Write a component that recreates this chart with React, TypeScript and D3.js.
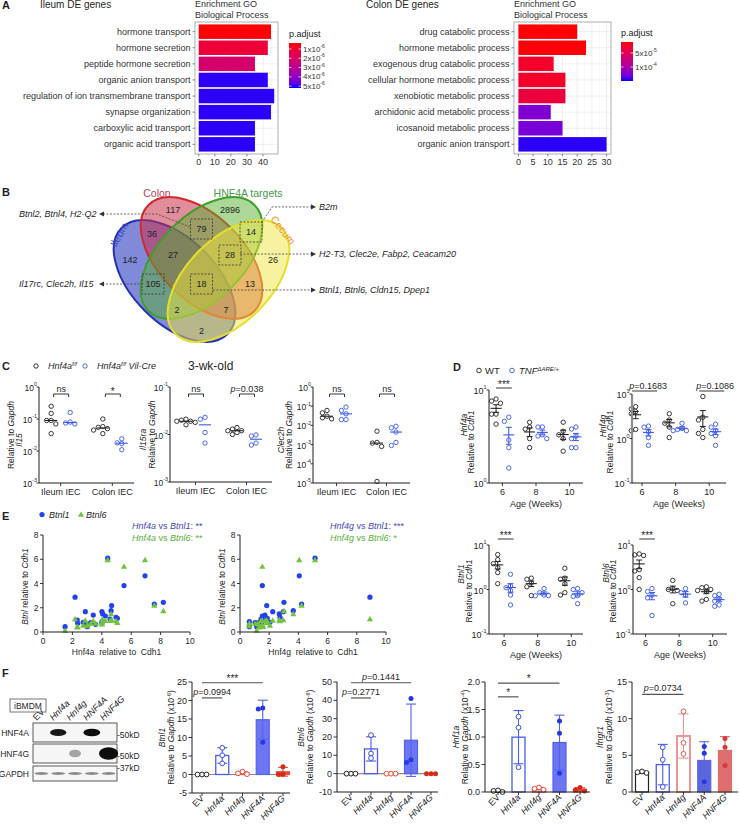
import React from 'react';
import * as d3 from 'd3';

const FONT = '"Liberation Sans", Arial, Helvetica, sans-serif';
const INK = '#1f1f1f';
const WT_COL = '#222222';
const KO_COL = '#3a58f0';

// ---------- A: GO enrichment ----------
const ileumTerms = [
  'hormone transport',
  'hormone secretion',
  'peptide hormone secretion',
  'organic anion transport',
  'regulation of ion transmembrane transport',
  'synapse organization',
  'carboxylic acid transport',
  'organic acid transport',
];
const ileumCounts = [45, 43, 35, 43, 47, 45, 35, 35];
const ileumPadj = [0.4e-6, 1.1e-6, 2.1e-6, 5.1e-6, 5.1e-6, 5.1e-6, 5.1e-6, 5.1e-6];
const ileumLegendRange = [0.35e-6, 5.2e-6];
const ileumLegendTicks = [1e-6, 2e-6, 3e-6, 4e-6, 5e-6];

const colonTerms = [
  'drug catabolic process',
  'hormone metabolic process',
  'exogenous drug catabolic process',
  'cellular hormone metabolic process',
  'xenobiotic metabolic process',
  'archidonic acid metabolic process',
  'icosanoid metabolic process',
  'organic anion transport',
];
const colonCounts = [20, 23, 12, 16, 16, 11, 15, 30];
const colonPadj = [1.15e-5, 1.25e-5, 2.5e-5, 2.5e-5, 3.5e-5, 1.24e-4, 1.27e-4, 1.47e-4];
const colonLegendRange = [1.07e-5, 1.5e-4];
const colonLegendTicks = [5e-5, 1e-4];

// ---------- B: Venn ----------
const vennSets = ['Ileum', 'Colon', 'HNF4A targets', 'Cecum'];
const vennCounts = [117, 2896, 36, 79, 14, 142, 27, 28, 26, 105, 18, 13, 2, 7, 2];
const vennCalloutGenes = [
  'Btnl2, Btnl4, H2-Q2',
  'B2m',
  'H2-T3, Clec2e, Fabp2, Ceacam20',
  'Il17rc, Clec2h, Il15',
  'Btnl1, Btnl6, Cldn15, Dpep1',
];

// ---------- C: 3-wk-old qPCR ----------
const cGroups = ['Ileum IEC', 'Colon IEC'];
const il15WT = [[0.25, 0.15, 0.09, 0.09, 0.07, 0.035], [0.1, 0.058, 0.055, 0.05, 0.045, 0.035]];
const il15KO = [[0.16, 0.08, 0.075, 0.07], [0.024, 0.018, 0.017, 0.011]];
const il15Sig = ['ns', '*'];
const il15raWT = [[0.021, 0.02, 0.019, 0.019, 0.018, 0.016], [0.014, 0.013, 0.012, 0.012, 0.011, 0.01]];
const il15raKO = [[0.023, 0.021, 0.011, 0.0066], [0.0098, 0.0093, 0.0066, 0.006]];
const il15raSig = ['ns', 'p=0.038'];
const clec2hWT = [[0.06, 0.045, 0.03, 0.025, 0.022], [0.005, 0.0013, 0.0012, 0.0008, 0.000012]];
const clec2hKO = [[0.09, 0.06, 0.04, 0.02, 0.02], [0.009, 0.0075, 0.0045, 0.0013, 0.0009]];
const clec2hSig = ['ns', 'ns'];

// ---------- D: TNF dARE time course ----------
const weeks = [6, 8, 10];
const hnf4aWT = [[8.0, 7.6, 7.2, 5.5, 5.5, 4.3], [4.5, 4.0, 3.8, 3.0, 2.4], [4.5, 3.6, 3.3, 3.0, 2.2]];
const hnf4aTNF = [[5.1, 4.6, 2.9, 2.4, 1.45], [4.0, 4.0, 3.3, 3.2, 3.0], [4.0, 3.8, 3.2, 3.0, 2.4, 2.4]];
const hnf4gWT = [[5.2, 4.6, 4.0, 3.6, 1.6, 1.5], [3.6, 2.6, 2.2, 1.8, 1.05], [8.8, 3.0, 2.6, 1.6, 1.3, 1.05]];
const hnf4gTNF = [[1.9, 1.8, 1.4, 1.05, 0.7], [2.2, 1.7, 1.6, 1.5, 1.5], [2.1, 1.8, 1.5, 1.3, 1.15, 0.7]];
const btnl1WT = [[6.1, 4.7, 3.8, 3.1, 2.4, 1.35], [1.8, 1.7, 1.4, 1.15, 0.73], [3.0, 1.8, 1.7, 1.35, 0.85, 0.75]];
const btnl1TNF = [[2.2, 1.2, 1.1, 0.95, 0.75, 0.45], [1.05, 0.85, 0.75, 0.73, 0.72], [1.05, 1.0, 0.85, 0.73, 0.7, 0.48]];
const btnl6WT = [[6.3, 6.0, 5.8, 2.8, 2.6, 1.85, 1.0], [1.6, 1.05, 1.0, 0.95, 0.48], [1.15, 1.1, 1.0, 0.95, 0.9, 0.6, 0.55]];
const btnl6TNF = [[1.05, 0.9, 0.75, 0.65, 0.26], [1.05, 0.85, 0.75, 0.5], [0.78, 0.73, 0.62, 0.55, 0.45, 0.42]];
const hnf4aSig = [{ week: 6, text: '***' }];
const hnf4gSig = [{ week: 6, text: 'p=0.1683' }, { week: 10, text: 'p=0.1086' }];
const btnl1Sig = [{ week: 6, text: '***' }];
const btnl6Sig = [{ week: 6, text: '***' }];

// ---------- E: correlations (one row per sample) ----------
const eHnf4a = [4.4, 6.94, 5.51, 2.18, 7.57, 8.19, 4.67, 4.63, 2.88, 4.01, 4.06, 3.42, 4.24, 4.97, 5.06, 4.56, 2.33, 4.01, 2.74, 3.24, 4.01, 2.36, 3.02, 3.58, 3.02, 1.5];
const eHnf4g = [5.14, 4.06, 1.53, 8.9, 4.22, 3.01, 1.83, 3.65, 2.24, 2.97, 2.69, 1.71, 1.53, 2.74, 1.87, 1.44, 1.6, 0.64, 2.05, 1.03, 1.26, 1.3, 1.5, 1.2, 0.64, 1.14];
const eBtnl1 = [6.09, 4.63, 3.83, 2.87, 2.31, 2.45, 2.18, 1.76, 1.68, 1.68, 1.49, 1.4, 1.32, 1.21, 1.13, 1.07, 0.99, 0.85, 0.8, 0.77, 0.77, 0.72, 0.66, 0.63, 0.44, 0.44];
const eBtnl6 = [5.95, 5.95, 5.4, 1.07, 2.2, 1.74, 0.99, 1.49, 0.95, 0.99, 1.0, 0.91, 0.94, 0.91, 0.77, 0.94, 0.44, 0.72, 0.55, 0.7, 0.65, 0.4, 0.6, 0.7, 0.5, 0.12];

// ---------- F: iBMDM overexpression ----------
const blotLanes = ['EV', 'Hnf4a', 'Hnf4g', 'HNF4A', 'HNF4G'];
const blotRows = ['HNF4A', 'HNF4G', 'GAPDH'];
const blotSignal = [
  [0, 0.95, 0, 1, 0],
  [0, 0, 0.35, 0.03, 1],
  [0.45, 0.45, 0.45, 0.45, 0.45],
];
const blotMarkers = ['50kD', '50kD', '37kD'];
const fCats = ['EV', 'Hnf4a', 'Hnf4g', 'HNF4A', 'HNF4G'];
const btnl1F = [[0, 0, 0], [7.2, 5.2, 3.0], [0.8, 0.3, 0.1], [18.0, 17.7, 8.7], [2.1, 0.1, 0.0]];
const btnl6F = [[0, 0, 0], [21, 11, 8.5], [0, 0, 0], [41, 6.1, 7.6], [0, 0, 0]];
const hnf1aF = [[0.02, 0.0, 0.03], [1.37, 1.17, 0.45], [0.08, 0.06, 0.04], [1.29, 1.07, 0.34], [0.08, 0.04, 0.02]];
const ifngr1F = [[2.8, 2.7, 2.6], [6.1, 4.4, 0.7], [11.0, 6.7, 5.2], [6.2, 5.3, 1.4], [7.3, 6.1, 3.6]];
const btnl1FSig = [{ a: 'EV', b: 'HNF4A', at: 24.8, text: '***' }, { a: 'EV', b: 'Hnf4a', at: 20.7, text: 'p=0.0994' }];
const btnl6FSig = [{ a: 'EV', b: 'HNF4A', at: 49.6, text: 'p=0.1441' }, { a: 'EV', b: 'Hnf4a', at: 41.3, text: 'p=0.2771' }];
const hnf1aFSig = [{ a: 'EV', b: 'HNF4A', at: 1.98, text: '*' }, { a: 'EV', b: 'Hnf4a', at: 1.73, text: '*' }];
const ifngr1FSig = [{ a: 'EV', b: 'Hnf4g', at: 13.3, text: 'p=0.0734' }];

// ---------- styles ----------
const fStyle = [
  { line: '#222', fill: '#fff', dot: '#222', solid: false, w: 1.2 },
  { line: '#4b5df2', fill: '#fff', dot: '#3b4ff0', solid: false, w: 1.3 },
  { line: '#ef5444', fill: '#fff', dot: '#ef4a3a', solid: false, w: 1.3 },
  { line: '#5462ee', fill: '#6d76f0', dot: '#2638e6', solid: true, w: 1.2 },
  { line: '#e4503e', fill: '#e4503e', dot: '#d72a18', solid: true, w: 1.2 },
];
const fStyleIfngr = [
  fStyle[0],
  fStyle[1],
  { line: '#f29393', fill: '#fff', dot: '#e65b5b', solid: false, w: 2 },
  { line: '#5c66dc', fill: '#5c66dc', dot: '#2638e6', solid: true, w: 1.2 },
  { line: '#df6f6f', fill: '#df6f6f', dot: '#d63b3b', solid: true, w: 1.2 },
];

function sci(v: number) {
  const e = Math.floor(Math.log10(v) + 1e-9);
  return { m: Math.round(v / Math.pow(10, e)), e };
}

function swarm(vals: number[], cx: number, y: (v: number) => number, gap: number) {
  const out: { x: number; y: number }[] = [];
  const order = [0, -1, 1, -2, 2, -3, 3];
  [...vals].sort((a, b) => b - a).forEach(v => {
    const py = y(v);
    let px = cx;
    for (const k of order) {
      const c = cx + k * gap;
      if (out.every(p => Math.hypot(p.x - c, p.y - py) >= gap * 0.98)) { px = c; break; }
    }
    out.push({ x: px, y: py });
  });
  return out;
}

function sigContent(t: string) {
  if (t.startsWith('p=')) return [<tspan key="p" fontStyle="italic">p</tspan>, t.slice(1)];
  return t;
}

function Pow10({ x, y, e, size = 8.5, anchor = 'end' }: any) {
  return (
    <text x={x} y={y} fontSize={size} textAnchor={anchor} dominantBaseline="central" fill={INK}>
      10<tspan fontSize={size * 0.62} dy={-size * 0.42}>{e}</tspan>
    </text>
  );
}

function VText({ x, y, size = 8.5, children, fill = INK }: any) {
  return (
    <text transform={`translate(${x},${y}) rotate(-90)`} textAnchor="middle" fontSize={size} fill={fill}>
      {children}
    </text>
  );
}

// ---------- Panel A ----------
function GoPanel({ gid, title, titleX, terms, counts, padj, lRange, lTicks, box, leg }: any) {
  const max = d3.max(counts as number[]) as number;
  const x = d3.scaleLinear().domain([-0.05 * max, 1.05 * max]).range([box.x0, box.x1]);
  const y = d3.scalePoint<string>().domain(terms).range([box.y0, box.y1]).padding(0.6);
  const bh = y.step() * 0.9;
  const col = d3.scaleLinear<string>().domain(lRange).range(['#ff0000', '#0000ff']).interpolate(d3.interpolateLab);
  const ly = d3.scaleLinear().domain(lRange).range([leg.y0, leg.y1]);
  const ticks = x.ticks(5).filter(t => t >= 0);
  const st = ticks[1] - ticks[0];
  const minor = ticks.map(t => t + st / 2).filter(t => t < x.domain()[1]);
  const stops = d3.range(0, 1.0001, 0.1);
  return (
    <g>
      <text x={titleX} y={8} fontSize={10} fill={INK}>{title}</text>
      <text x={box.x0} y={7} fontSize={9} fill="#333">Enrichment GO</text>
      <text x={box.x0} y={18} fontSize={9} fill="#333">Biological Process</text>
      <rect x={box.x0} y={box.y0} width={box.x1 - box.x0} height={box.y1 - box.y0} fill="#fff" />
      {minor.map(t => (
        <line key={'m' + t} x1={x(t)} x2={x(t)} y1={box.y0} y2={box.y1} stroke="#f3f3f3" strokeWidth={0.5} />
      ))}
      {ticks.map(t => (
        <line key={'g' + t} x1={x(t)} x2={x(t)} y1={box.y0} y2={box.y1} stroke="#e8e8e8" strokeWidth={0.7} />
      ))}
      {terms.map((t: string) => (
        <line key={'h' + t} x1={box.x0} x2={box.x1} y1={y(t)} y2={y(t)} stroke="#e8e8e8" strokeWidth={0.7} />
      ))}
      {terms.map((t: string, i: number) => (
        <rect key={t} x={x(0)} y={(y(t) as number) - bh / 2} width={x(counts[i]) - x(0)} height={bh} fill={col(padj[i])} />
      ))}
      <rect x={box.x0} y={box.y0} width={box.x1 - box.x0} height={box.y1 - box.y0} fill="none" stroke="#9c9c9c" strokeWidth={0.8} />
      {terms.map((t: string) => (
        <g key={'l' + t}>
          <line x1={box.x0 - 2.5} x2={box.x0} y1={y(t)} y2={y(t)} stroke="#444" strokeWidth={0.6} />
          <text x={box.x0 - 4.5} y={y(t)} textAnchor="end" dominantBaseline="central" fontSize={9} fill="#333">{t}</text>
        </g>
      ))}
      {ticks.map(t => (
        <g key={'x' + t}>
          <line x1={x(t)} x2={x(t)} y1={box.y1} y2={box.y1 + 2.5} stroke="#444" strokeWidth={0.6} />
          <text x={x(t)} y={box.y1 + 11} textAnchor="middle" fontSize={9} fill="#333">{t}</text>
        </g>
      ))}
      <text x={leg.x} y={leg.y0 - 6} fontSize={9} fill="#222">p.adjust</text>
      <defs>
        <linearGradient id={gid} x1="0" y1="0" x2="0" y2="1">
          {stops.map(s => (
            <stop key={s} offset={s} stopColor={col(lRange[0] + s * (lRange[1] - lRange[0]))} />
          ))}
        </linearGradient>
      </defs>
      <rect x={leg.x} y={leg.y0} width={12} height={leg.y1 - leg.y0} fill={`url(#${gid})`} />
      {lTicks.map((v: number) => {
        const { m, e } = sci(v);
        return (
          <g key={v}>
            <line x1={leg.x} x2={leg.x + 2.5} y1={ly(v)} y2={ly(v)} stroke="#fff" strokeWidth={0.7} />
            <line x1={leg.x + 9.5} x2={leg.x + 12} y1={ly(v)} y2={ly(v)} stroke="#fff" strokeWidth={0.7} />
            <text x={leg.x + 14} y={ly(v)} dominantBaseline="central" fontSize={8} fill="#333">
              {m}x10<tspan fontSize={5} dy={-3}>{e}</tspan>
            </text>
          </g>
        );
      })}
    </g>
  );
}

// ---------- Panel B ----------
const VENN_SHAPES = [
  { c: [-0.252, 0.215], rot: 45, fill: '#3441c2', stroke: '#2233b8', op: 0.62 },
  { c: [0, 0], rot: 45, fill: '#c83048', stroke: '#d02a2a', op: 0.55 },
  { c: [0, 0], rot: -45, fill: '#58b030', stroke: '#3f9f2a', op: 0.5 },
  { c: [0.252, 0.215], rot: -45, fill: '#efe640', stroke: '#e6df2a', op: 0.5 },
];
const VENN_POS = [
  [-0.266, -0.449], [0.266, -0.449], [-0.463, -0.224], [0, -0.271], [0.463, -0.243],
  [-0.668, 0.019], [-0.266, -0.028], [0.266, -0.028], [0.668, 0.019],
  [-0.453, 0.243], [0, 0.243], [0.453, 0.243], [-0.229, 0.486], [0.229, 0.486], [0, 0.682],
];
const VENN_BOXED = [3, 4, 7, 9, 10];
const VENN_CALLOUTS = [
  { pts: [[-0.107, -0.29], [-0.416, -0.411], [-0.911, -0.411]], at: [-1.706, -0.383], dir: -1 },
  { pts: [[0.565, -0.336], [0.659, -0.477], [1.023, -0.477]], at: [1.098, -0.449], dir: 1 },
  { pts: [[0.36, -0.037], [1.023, -0.037]], at: [1.098, -0.009], dir: 1 },
  { pts: [[-0.547, 0.243], [-0.911, 0.243]], at: [-1.706, 0.271], dir: -1 },
  { pts: [[0.107, 0.299], [1.023, 0.299]], at: [1.098, 0.327], dir: 1 },
];
const VENN_NAMES = [
  { at: [-0.74, -0.2], rot: -60, color: '#3a4ac0' },
  { at: [-0.416, -0.572], rot: 0, color: '#c0405a' },
  { at: [0.435, -0.572], rot: 0, color: '#4a9a4a' },
  { at: [0.735, -0.24], rot: 52, color: '#f09030' },
];

function Venn() {
  const vx = d3.scaleLinear().domain([-1, 1]).range([94.5, 308.5]);
  const vy = d3.scaleLinear().domain([-1, 1]).range([151, 365]);
  const rx = vx(0.7) - vx(0);
  const ry = vx(0.393) - vx(0);
  const line = d3.line<number[]>().x(p => vx(p[0])).y(p => vy(p[1]));
  return (
    <g>
      {VENN_SHAPES.map((s, i) => (
        <ellipse key={i} cx={0} cy={0} rx={rx} ry={ry}
          transform={`translate(${vx(s.c[0])},${vy(s.c[1])}) rotate(${s.rot})`}
          fill={s.fill} fillOpacity={s.op} stroke={s.stroke} strokeWidth={2} />
      ))}
      {VENN_NAMES.map((n, i) => (
        <text key={i} transform={`translate(${vx(n.at[0])},${vy(n.at[1])}) rotate(${n.rot})`}
          textAnchor="middle" fontSize={10.5} fill={n.color}>{vennSets[i]}</text>
      ))}
      {VENN_BOXED.map(i => (
        <rect key={'b' + i} x={vx(VENN_POS[i][0]) - 11} y={vy(VENN_POS[i][1]) - 10} width={22} height={20}
          fill="none" stroke="#333" strokeWidth={0.8} strokeDasharray="2,1.5" />
      ))}
      {vennCounts.map((c, i) => (
        <text key={'c' + i} x={vx(VENN_POS[i][0])} y={vy(VENN_POS[i][1])} textAnchor="middle"
          dominantBaseline="central" fontSize={9} fill={INK}>{c}</text>
      ))}
      {VENN_CALLOUTS.map((c, i) => {
        const end = c.pts[c.pts.length - 1];
        const ex = vx(end[0]);
        const ey = vy(end[1]);
        const d = c.dir;
        return (
          <g key={'k' + i}>
            <path d={line(c.pts) as string} fill="none" stroke="#444" strokeWidth={0.8} strokeDasharray="2,1.5" />
            <path d={`M${ex + d * 5},${ey} L${ex},${ey - 2.6} L${ex},${ey + 2.6} Z`} fill="#333" />
            <text x={vx(c.at[0])} y={vy(c.at[1])} fontSize={9} fontStyle="italic" fill={INK}>{vennCalloutGenes[i]}</text>
          </g>
        );
      })}
    </g>
  );
}

// ---------- Panel C ----------
function LogDot({ axisX, xEnd, yTop, yBottom, eTop, eBottom, pad, wt, ko, sig, gene, geneX, relX, sigY }: any) {
  const y = d3.scaleLog().domain([Math.pow(10, eBottom), Math.pow(10, eTop)]).range([yBottom, yTop]);
  const x = d3.scalePoint<string>().domain(cGroups).range([axisX, xEnd]).padding(pad);
  const exps = d3.range(eBottom, eTop + 1);
  const off = 9.5;
  const midY = (yTop + yBottom) / 2 + 5;
  return (
    <g>
      {cGroups.map((g, gi) => {
        const cx = x(g) as number;
        return [
          { vals: wt[gi], px: cx - off, color: WT_COL },
          { vals: ko[gi], px: cx + off, color: KO_COL },
        ].map((s, si) => {
          const pts = swarm(s.vals, s.px, y, 4.6);
          const med = d3.median(s.vals) as number;
          return (
            <g key={g + si}>
              <line x1={s.px - 6} x2={s.px + 6} y1={y(med)} y2={y(med)} stroke={s.color} strokeWidth={1.1} />
              {pts.map((p, k) => (
                <circle key={k} cx={p.x} cy={p.y} r={2.2} fill="none" stroke={s.color} strokeWidth={0.9} />
              ))}
            </g>
          );
        });
      })}
      {cGroups.map((g, gi) => {
        const cx = x(g) as number;
        const x1 = cx - 7;
        const x2 = cx + 8;
        const isStar = sig[gi] === '*';
        return (
          <g key={'s' + g}>
            <path d={`M${x1},${sigY + 3} V${sigY} H${x2} V${sigY + 3}`} fill="none" stroke={INK} strokeWidth={0.9} />
            <text x={(x1 + x2) / 2} y={isStar ? sigY + 1 : sigY - 2.5} textAnchor="middle" fontSize={isStar ? 10 : 9} fill={INK}>
              {sigContent(sig[gi])}
            </text>
          </g>
        );
      })}
      <line x1={axisX} x2={axisX} y1={yTop} y2={yBottom} stroke={INK} strokeWidth={1} />
      <line x1={axisX} x2={xEnd} y1={yBottom} y2={yBottom} stroke={INK} strokeWidth={1} />
      {exps.map(e => (
        <g key={'e' + e}>
          <line x1={axisX - 2.5} x2={axisX} y1={y(Math.pow(10, e))} y2={y(Math.pow(10, e))} stroke={INK} strokeWidth={0.9} />
          <Pow10 x={axisX - 2} y={y(Math.pow(10, e)) + 1} e={e} />
        </g>
      ))}
      {cGroups.map(g => (
        <g key={'t' + g}>
          <line x1={x(g)} x2={x(g)} y1={yBottom} y2={yBottom + 3} stroke={INK} strokeWidth={0.9} />
          <text x={x(g)} y={yBottom + 12} textAnchor="middle" fontSize={9} fill={INK}>{g}</text>
        </g>
      ))}
      <VText x={geneX} y={midY} size={8.5}><tspan fontStyle="italic">{gene}</tspan></VText>
      <VText x={relX} y={midY - 5} size={8.5}>Relative to <tspan fontStyle="italic">Gapdh</tspan></VText>
    </g>
  );
}

// ---------- Panel D ----------
function TimeLog({ axisX, xEnd, xDomain, yTop, yBottom, eTop, eBottom, wt, tnf, sig, sigY, gene, geneAt, relAt, axisColor, axisW }: any) {
  const x = d3.scaleLinear().domain(xDomain).range([axisX, xEnd]);
  const y = d3.scaleLog().domain([Math.pow(10, eBottom), Math.pow(10, eTop)]).range([yBottom, yTop]);
  const exps = d3.range(eBottom, eTop + 1);
  const off = 0.38;
  return (
    <g>
      {weeks.map((w, wi) =>
        [
          { vals: wt[wi], px: x(w - off), color: WT_COL },
          { vals: tnf[wi], px: x(w + off), color: KO_COL },
        ].map((s, si) => {
          const m = d3.mean(s.vals) as number;
          const sem = (d3.deviation(s.vals) as number) / Math.sqrt(s.vals.length);
          const pts = swarm(s.vals, s.px, y, 4.4);
          return (
            <g key={w + '-' + si}>
              {pts.map((p, k) => (
                <circle key={k} cx={p.x} cy={p.y} r={2.2} fill="none" stroke={s.color} strokeWidth={0.9} />
              ))}
              <line x1={s.px} x2={s.px} y1={y(m + sem)} y2={y(Math.max(m - sem, 1e-3))} stroke={s.color} strokeWidth={1} />
              <line x1={s.px - 3} x2={s.px + 3} y1={y(m + sem)} y2={y(m + sem)} stroke={s.color} strokeWidth={1} />
              <line x1={s.px - 3} x2={s.px + 3} y1={y(m - sem)} y2={y(m - sem)} stroke={s.color} strokeWidth={1} />
              <line x1={s.px - 5.5} x2={s.px + 5.5} y1={y(m)} y2={y(m)} stroke={s.color} strokeWidth={1.1} />
            </g>
          );
        })
      )}
      {sig.map((s: any) => {
        const star = !s.text.startsWith('p=');
        const x1 = star ? x(s.week - off) : x(s.week) - 10;
        const x2 = star ? x(s.week + off) + 3 : x(s.week) + 15;
        return (
          <g key={'sig' + s.week}>
            <line x1={x1} x2={x2} y1={sigY} y2={sigY} stroke={INK} strokeWidth={0.9} />
            <text x={star ? (x1 + x2) / 2 : x(s.week) + 6} y={star ? sigY : sigY - 2} textAnchor="middle"
              fontSize={star ? 10 : 9} fill={INK}>{sigContent(s.text)}</text>
          </g>
        );
      })}
      <line x1={axisX} x2={axisX} y1={yTop} y2={yBottom} stroke={axisColor || INK} strokeWidth={axisW || 1} />
      <line x1={axisX} x2={xEnd} y1={yBottom} y2={yBottom} stroke={INK} strokeWidth={1} />
      {exps.map(e => (
        <g key={'e' + e}>
          <line x1={axisX - 2.5} x2={axisX} y1={y(Math.pow(10, e))} y2={y(Math.pow(10, e))} stroke={INK} strokeWidth={0.9} />
          <Pow10 x={axisX - 2.5} y={y(Math.pow(10, e)) + 1} e={e} size={9} />
        </g>
      ))}
      {weeks.map(w => (
        <g key={'w' + w}>
          <line x1={x(w)} x2={x(w)} y1={yBottom} y2={yBottom + 3} stroke={INK} strokeWidth={0.9} />
          <text x={x(w)} y={yBottom + 12} textAnchor="middle" fontSize={9} fill={INK}>{w}</text>
        </g>
      ))}
      <text x={(axisX + xEnd) / 2} y={yBottom + 24} textAnchor="middle" fontSize={9} fill={INK}>Age (Weeks)</text>
      <VText x={geneAt[0]} y={geneAt[1]} size={8.5}><tspan fontStyle="italic">{gene}</tspan></VText>
      <VText x={relAt[0]} y={relAt[1]} size={8.5}>Relative to <tspan fontStyle="italic">Cdh1</tspan></VText>
    </g>
  );
}

// ---------- Panel E ----------
function Scatter({ axisX, xEnd, yTop, yBottom, xs, gene, notes, titleX }: any) {
  const x = d3.scaleLinear().domain([0, 10]).range([axisX, xEnd]);
  const y = d3.scaleLinear().domain([0, 8]).range([yBottom, yTop]);
  const tri = d3.symbol().type(d3.symbolTriangle).size(17)() as string;
  return (
    <g>
      {xs.map((v: number, i: number) => (
        <circle key={'b' + i} cx={x(v)} cy={y(eBtnl1[i])} r={2.6} fill="#2340f2" />
      ))}
      {xs.map((v: number, i: number) => (
        <path key={'g' + i} d={tri} transform={`translate(${x(v)},${y(eBtnl6[i]) + 0.5})`} fill="#72c23e" />
      ))}
      <line x1={axisX} x2={axisX} y1={yTop} y2={yBottom} stroke={INK} strokeWidth={1} />
      <line x1={axisX} x2={xEnd} y1={yBottom} y2={yBottom} stroke={INK} strokeWidth={1} />
      {y.ticks(4).map(t => (
        <g key={'y' + t}>
          <line x1={axisX - 3} x2={axisX} y1={y(t)} y2={y(t)} stroke={INK} strokeWidth={0.9} />
          <text x={axisX - 4.5} y={y(t)} textAnchor="end" dominantBaseline="central" fontSize={8.5} fill={INK}>{t}</text>
        </g>
      ))}
      {x.ticks(5).map(t => (
        <g key={'x' + t}>
          <line x1={x(t)} x2={x(t)} y1={yBottom} y2={yBottom + 3} stroke={INK} strokeWidth={0.9} />
          <text x={x(t)} y={yBottom + 12} textAnchor="middle" fontSize={8.5} fill={INK}>{t}</text>
        </g>
      ))}
      <text x={(axisX + xEnd) / 2} y={yBottom + 23} textAnchor="middle" fontSize={8.5} fill={INK} xmlSpace="preserve">
        {gene}{'  relative to  Cdh1'}
      </text>
      <VText x={titleX} y={(yTop + yBottom) / 2 + 3} size={8.5}>
        <tspan fontStyle="italic">Btnl</tspan>{'  relative to '}<tspan fontStyle="italic">Cdh1</tspan>
      </VText>
      {notes.map((n: any, i: number) => (
        <text key={'n' + i} x={n.x} y={n.y} fontSize={9} fill={n.color}>
          <tspan fontStyle="italic">{n.a}</tspan> vs <tspan fontStyle="italic">{n.b}</tspan>: {n.s}
        </text>
      ))}
    </g>
  );
}

// ---------- Panel F ----------
function Blot() {
  const lane = d3.scaleBand<string>().domain(blotLanes).range([33, 117]);
  const rowBox = [[723, 742], [744, 763], [766, 781]];
  const base = [{ rx: 7, ry: 3.1 }, { rx: 8, ry: 5.2 }, { rx: 8.5, ry: 1.8 }];
  const markerY = [735, 756, 768];
  return (
    <g>
      <rect x={10} y={699} width={36} height={13} fill="#fff" stroke="#555" strokeWidth={0.8} />
      <text x={28} y={705.5} textAnchor="middle" dominantBaseline="central" fontSize={8.5} fill={INK}>iBMDM</text>
      {blotLanes.map(l => (
        <text key={l} transform={`translate(${(lane(l) as number) + lane.bandwidth() / 2 - 5},${721}) rotate(-45)`}
          fontSize={9} fontStyle={l === 'EV' ? 'normal' : 'italic'} fill={INK}>{l}</text>
      ))}
      {blotRows.map((r, ri) => (
        <g key={r}>
          <rect x={33} y={rowBox[ri][0]} width={84} height={rowBox[ri][1] - rowBox[ri][0]} fill="#f6f6f6" stroke="#333" strokeWidth={0.8} />
          <text x={29} y={(rowBox[ri][0] + rowBox[ri][1]) / 2} textAnchor="end" dominantBaseline="central" fontSize={8.5} fill={INK}>{r}</text>
          {blotLanes.map((l, li) => {
            const s = blotSignal[ri][li];
            if (s <= 0.05) return null;
            const k = 0.5 + 0.7 * s;
            return (
              <ellipse key={l} cx={(lane(l) as number) + lane.bandwidth() / 2} cy={(rowBox[ri][0] + rowBox[ri][1]) / 2}
                rx={base[ri].rx * k} ry={base[ri].ry * k} fill="#0c0c0c" fillOpacity={Math.min(1, s)} />
            );
          })}
          <text x={117} y={markerY[ri]} dominantBaseline="central" fontSize={8.5} fill={INK}>-{blotMarkers[ri]}</text>
        </g>
      ))}
    </g>
  );
}

function BarDot({ axisX, xEnd, catRange, yTop, yBottom, domain, ticks, fmt, vals, styles, sig, gene, exp, geneX, relX }: any) {
  const x = d3.scalePoint<string>().domain(fCats).range(catRange);
  const y = d3.scaleLinear().domain(domain).range([yBottom, yTop]);
  const bw = 13;
  const midY = (yTop + yBottom) / 2;
  return (
    <g>
      {domain[0] < 0 && <line x1={axisX} x2={xEnd} y1={y(0)} y2={y(0)} stroke="#8a8a8a" strokeWidth={1.2} />}
      {fCats.map((c, ci) => {
        const v = vals[ci];
        const st = styles[ci];
        const m = d3.mean(v) as number;
        const sd = d3.deviation(v) as number;
        const cx = x(c) as number;
        const pts = swarm(v, cx, y, 4.5);
        return (
          <g key={c}>
            <rect x={cx - bw / 2} y={Math.min(y(m), y(0))} width={bw} height={Math.abs(y(0) - y(m))}
              fill={st.fill} stroke={st.line} strokeWidth={st.w} />
            {sd > 0 && (
              <g stroke={st.line} strokeWidth={1.1}>
                <line x1={cx} x2={cx} y1={y(m + sd)} y2={y(Math.max(m - sd, domain[0]))} />
                <line x1={cx - 5} x2={cx + 5} y1={y(m + sd)} y2={y(m + sd)} />
                {m - sd > domain[0] && <line x1={cx - 5} x2={cx + 5} y1={y(m - sd)} y2={y(m - sd)} />}
              </g>
            )}
            {pts.map((p, k) =>
              st.solid ? (
                <circle key={k} cx={p.x} cy={p.y} r={2.5} fill={st.dot} />
              ) : (
                <circle key={k} cx={p.x} cy={p.y} r={2.4} fill="#fff" stroke={st.dot} strokeWidth={1} />
              )
            )}
          </g>
        );
      })}
      {sig.map((s: any, i: number) => {
        const x1 = x(s.a) as number;
        const x2 = x(s.b) as number;
        const yy = y(s.at);
        const star = !s.text.startsWith('p=');
        return (
          <g key={'s' + i}>
            <line x1={x1} x2={x2} y1={yy} y2={yy} stroke="#555" strokeWidth={1.2} />
            <text x={(x1 + x2) / 2} y={star ? yy - 1 : yy - 3} textAnchor="middle" fontSize={star ? 10 : 9} fill={INK}>
              {sigContent(s.text)}
            </text>
          </g>
        );
      })}
      <line x1={axisX} x2={axisX} y1={yTop} y2={yBottom} stroke={INK} strokeWidth={1} />
      <line x1={axisX} x2={xEnd} y1={yBottom} y2={yBottom} stroke={INK} strokeWidth={1} />
      {ticks.map((t: number) => (
        <g key={'t' + t}>
          <line x1={axisX - 3.5} x2={axisX} y1={y(t)} y2={y(t)} stroke={INK} strokeWidth={0.9} />
          <text x={axisX - 5} y={y(t)} textAnchor="end" dominantBaseline="central" fontSize={9} fill={INK}>{fmt(t)}</text>
        </g>
      ))}
      {fCats.map(c => (
        <g key={'c' + c}>
          <line x1={x(c)} x2={x(c)} y1={yBottom} y2={yBottom + 3} stroke={INK} strokeWidth={0.9} />
          <text transform={`translate(${(x(c) as number) + 2.5},${yBottom + 6}) rotate(-45)`} textAnchor="end"
            fontSize={9} fontStyle={c === 'EV' ? 'normal' : 'italic'} fill={INK}>{c}</text>
        </g>
      ))}
      <VText x={geneX} y={midY} size={8.5}><tspan fontStyle="italic">{gene}</tspan></VText>
      <VText x={relX} y={midY} size={8.5}>
        {'Relative to  '}<tspan fontStyle="italic">Gapdh</tspan>{'  (x10'}
        <tspan fontSize={5.5} dy={-3}>{exp}</tspan><tspan dy={3}>)</tspan>
      </VText>
    </g>
  );
}

const intFmt = (t: number) => String(t);
const decFmt = d3.format('.1f');

export default function App() {
  return (
    <svg width={739} height={824} style={{ position: 'absolute', left: 0, top: 0, fontFamily: FONT }}>
      <rect width={739} height={824} fill="#fff" />

      {/* A */}
      <text x={2} y={9} fontSize={11} fontWeight="bold" fill={INK}>A</text>
      <GoPanel gid="gIle" title="Ileum DE genes" titleX={40} terms={ileumTerms} counts={ileumCounts} padj={ileumPadj}
        lRange={ileumLegendRange} lTicks={ileumLegendTicks}
        box={{ x0: 195, x1: 278, y0: 22, y1: 154 }} leg={{ x: 289, y0: 43, y1: 88 }} />
      <GoPanel gid="gCol" title="Colon DE genes" titleX={366} terms={colonTerms} counts={colonCounts} padj={colonPadj}
        lRange={colonLegendRange} lTicks={colonLegendTicks}
        box={{ x0: 514, x1: 611, y0: 22, y1: 154 }} leg={{ x: 621, y0: 42, y1: 81 }} />

      {/* B */}
      <text x={2} y={196} fontSize={11} fontWeight="bold" fill={INK}>B</text>
      <Venn />

      {/* C */}
      <text x={2} y={370} fontSize={11} fontWeight="bold" fill={INK}>C</text>
      <circle cx={36} cy={366} r={2.2} fill="none" stroke={WT_COL} strokeWidth={0.9} />
      <text x={48} y={369} fontSize={9} fontStyle="italic" fill={INK}>Hnf4a<tspan fontSize={6} dy={-3.5}>f/f</tspan></text>
      <circle cx={85} cy={366} r={2.2} fill="none" stroke={KO_COL} strokeWidth={0.9} />
      <text x={97} y={369} fontSize={9} fontStyle="italic" fill={INK}>
        Hnf4a<tspan fontSize={6} dy={-3.5}>f/f</tspan><tspan dy={3.5}> Vil-Cre</tspan>
      </text>
      <text x={188} y={370} fontSize={12} fill={INK}>3-wk-old</text>
      <LogDot axisX={39} xEnd={134} yTop={387} yBottom={483} eTop={0} eBottom={-3} pad={0.42}
        wt={il15WT} ko={il15KO} sig={il15Sig} gene="Il15" geneX={21.5} relX={14} sigY={394} />
      <LogDot axisX={170} xEnd={272} yTop={387} yBottom={482} eTop={-1} eBottom={-3} pad={0.5}
        wt={il15raWT} ko={il15raKO} sig={il15raSig} gene="Il15ra" geneX={146} relX={155} sigY={394} />
      <LogDot axisX={313} xEnd={410} yTop={387} yBottom={483} eTop={0} eBottom={-5} pad={0.47}
        wt={clec2hWT} ko={clec2hKO} sig={clec2hSig} gene="Clec2h" geneX={284} relX={291.5} sigY={394} />

      {/* D */}
      <text x={453} y={371} fontSize={11} fontWeight="bold" fill={INK}>D</text>
      <circle cx={479} cy={370.5} r={2.3} fill="none" stroke={WT_COL} strokeWidth={0.9} />
      <text x={485} y={374} fontSize={9.5} fill={INK}>WT</text>
      <circle cx={512} cy={370.5} r={2.3} fill="none" stroke={KO_COL} strokeWidth={0.9} />
      <text x={519} y={374} fontSize={9.5} fontStyle="italic" fill={INK}>TNF<tspan fontSize={6} dy={-3.5}>ΔARE/+</tspan></text>
      <TimeLog axisX={489} xEnd={583} xDomain={[5.2, 10.8]} yTop={390} yBottom={483} eTop={1} eBottom={0}
        wt={hnf4aWT} tnf={hnf4aTNF} sig={hnf4aSig} sigY={388} gene="Hnf4a" geneAt={[467, 425]} relAt={[474, 442]} />
      <TimeLog axisX={632} xEnd={726} xDomain={[5.4, 11.0]} yTop={394} yBottom={483} eTop={1} eBottom={-1}
        wt={hnf4gWT} tnf={hnf4gTNF} sig={hnf4gSig} sigY={391} gene="Hnf4g" geneAt={[606, 426]} relAt={[613, 442]}
        axisColor="#8d8d8d" axisW={2.2} />
      <TimeLog axisX={489} xEnd={583} xDomain={[5.1, 10.7]} yTop={545} yBottom={634} eTop={1} eBottom={-1}
        wt={btnl1WT} tnf={btnl1TNF} sig={btnl1Sig} sigY={539} gene="Btnl1" geneAt={[464, 574]} relAt={[472, 591]} />
      <TimeLog axisX={633} xEnd={727} xDomain={[5.25, 10.85]} yTop={545} yBottom={634} eTop={1} eBottom={-1}
        wt={btnl6WT} tnf={btnl6TNF} sig={btnl6Sig} sigY={539} gene="Btnl6" geneAt={[609, 573]} relAt={[616, 591]} />

      {/* E */}
      <text x={2} y={520} fontSize={11} fontWeight="bold" fill={INK}>E</text>
      <circle cx={42} cy={514.5} r={2.6} fill="#2340f2" />
      <text x={49} y={518} fontSize={9} fontStyle="italic" fill={INK}>Btnl1</text>
      <path d={d3.symbol().type(d3.symbolTriangle).size(17)() as string} transform="translate(81,515)" fill="#72c23e" />
      <text x={86} y={518} fontSize={9} fontStyle="italic" fill={INK}>Btnl6</text>
      <Scatter axisX={43} xEnd={190} yTop={535} yBottom={632} xs={eHnf4a} gene="Hnf4a" titleX={28}
        notes={[
          { x: 132, y: 529, color: '#4646c2', a: 'Hnf4a', b: 'Btnl1', s: '**' },
          { x: 132, y: 540.5, color: '#5aae3c', a: 'Hnf4a', b: 'Btnl6', s: '**' },
        ]} />
      <Scatter axisX={240} xEnd={386} yTop={535} yBottom={632} xs={eHnf4g} gene="Hnf4g" titleX={225}
        notes={[
          { x: 330, y: 529, color: '#4646c2', a: 'Hnf4g', b: 'Btnl1', s: '***' },
          { x: 330, y: 540.5, color: '#5aae3c', a: 'Hnf4g', b: 'Btnl6', s: '*' },
        ]} />

      {/* F */}
      <text x={2} y={677} fontSize={11} fontWeight="bold" fill={INK}>F</text>
      <Blot />
      <BarDot axisX={192} xEnd={290} catRange={[202, 283]} yTop={682} yBottom={793} domain={[-5, 25]}
        ticks={[-5, 0, 5, 10, 15, 20, 25]} fmt={intFmt} vals={btnl1F} styles={fStyle} sig={btnl1FSig}
        gene="Btnl1" exp="-6" geneX={165} relX={174} />
      <BarDot axisX={337} xEnd={438} catRange={[351, 431]} yTop={682} yBottom={792} domain={[-10, 50]}
        ticks={[-10, 0, 10, 20, 30, 40, 50]} fmt={intFmt} vals={btnl6F} styles={fStyle} sig={btnl6FSig}
        gene="Btnl6" exp="-6" geneX={304} relX={313} />
      <BarDot axisX={485} xEnd={590} catRange={[498, 580]} yTop={682} yBottom={792} domain={[0, 2]}
        ticks={[0, 0.5, 1, 1.5, 2]} fmt={decFmt} vals={hnf1aF} styles={fStyle} sig={hnf1aFSig}
        gene="Hnf1a" exp="-4" geneX={459} relX={467.5} />
      <BarDot axisX={632} xEnd={738} catRange={[642, 725]} yTop={682} yBottom={792} domain={[0, 15]}
        ticks={[0, 5, 10, 15]} fmt={intFmt} vals={ifngr1F} styles={fStyleIfngr} sig={ifngr1FSig}
        gene="Ifngr1" exp="-3" geneX={603} relX={611.5} />
    </svg>
  );
}
